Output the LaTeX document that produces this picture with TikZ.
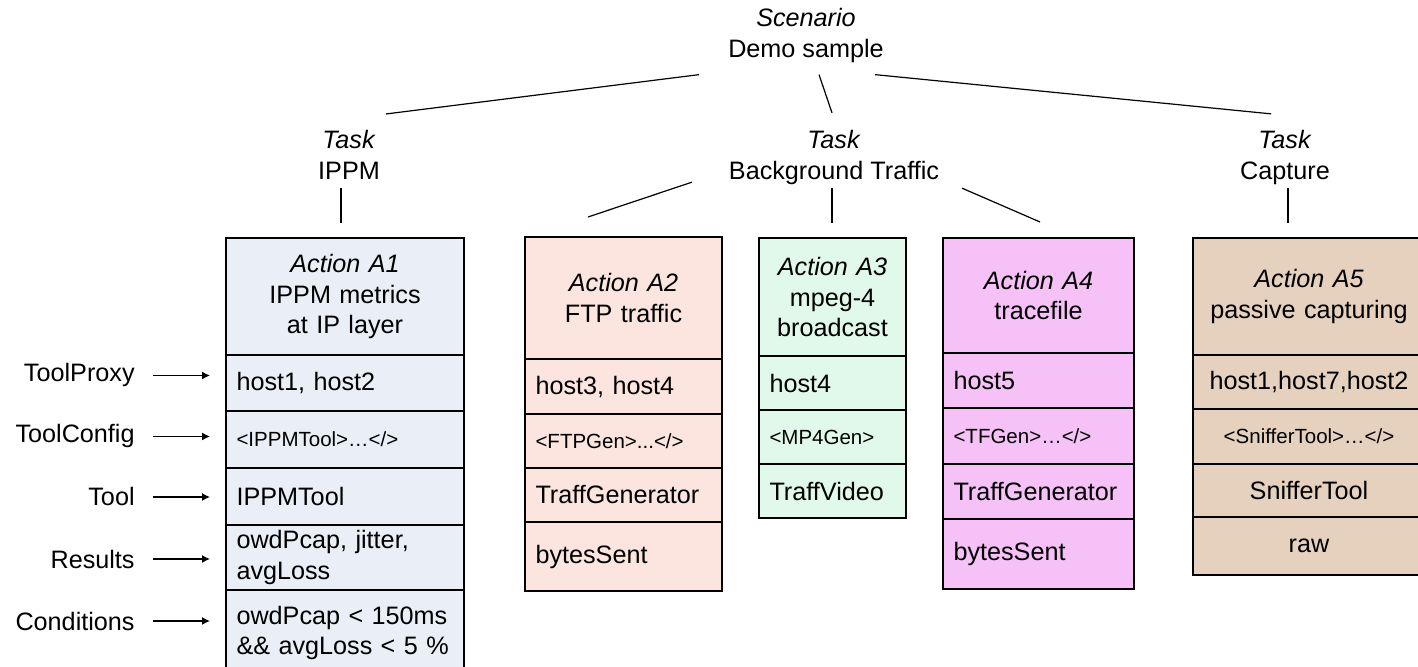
\documentclass[tikz,border=0pt]{standalone}
\usepackage{fontspec}
\setmainfont{Liberation Sans}
\usetikzlibrary{arrows.meta,calc}

\definecolor{aonefill}{HTML}{E9EEF7}
\definecolor{atwofill}{HTML}{FBE5DE}
\definecolor{athreefill}{HTML}{E0F9EA}
\definecolor{afourfill}{HTML}{F5C1F6}
\definecolor{afivefill}{HTML}{E5D1BE}

\newcommand\cfgsize{\fontsize{10.25}{12}\selectfont}

% one cell of an action column: name, fill, alignment, x1, y1, x2, y2, text
\newcommand\actioncell[8]{%
  \pgfmathsetmacro\cellw{(#6-#4)*0.5}%
  \pgfmathsetmacro\cellh{(#7-#5)*0.5}%
  \pgfmathsetmacro\celltw{(#6-#4-21)*0.5}%
  \node[cell, fill=#2, align=#3, minimum width=\cellw pt,
        minimum height=\cellh pt, text width=\celltw pt]
        (#1) at ({(#4+#6)/2},{(#5+#7)/2}) {#8};}

\begin{document}
\begin{tikzpicture}[x=0.5pt,y=-0.5pt,
  txt/.style={font=\fontsize{12.6}{15.5}\selectfont, inner sep=0pt},
  cell/.style={draw=black, line width=1pt, inner xsep=5.25pt, inner ysep=0pt,
               font=\fontsize{12.6}{15.3}\selectfont},
  link/.style={line width=0.6pt},
  pointer/.style={line width=0.65pt,-{Latex[length=4pt,width=4pt]}}]
\useasboundingbox (0,0) rectangle (1418,667);

% scenario and tasks
\node[txt, align=center] (scen) at (806,35) {\textit{Scenario}\\Demo sample};
\node[txt, align=center] (tippm) at (349,155) {\textit{Task}\\IPPM};
\node[txt, align=center] (tbg) at (834,157.5) {\textit{Task}\\Background Traffic};
\node[txt, align=center] (tcap) at (1285,157.5) {\textit{Task}\\Capture};

% action A1
\actioncell{aOneH}{aonefill}{center}{226}{238}{464}{355}{\textit{Action A1}\\IPPM metrics\\at IP layer}
\actioncell{aOneP}{aonefill}{left}{226}{355}{464}{411}{host1, host2}
\actioncell{aOneC}{aonefill}{left}{226}{411}{464}{468}{\cfgsize <IPPMTool>…</>}
\actioncell{aOneT}{aonefill}{left}{226}{468}{464}{525}{IPPMTool}
\actioncell{aOneR}{aonefill}{left}{226}{525}{464}{590}{owdPcap, jitter,\\avgLoss}
\actioncell{aOneK}{aonefill}{left}{226}{590}{464}{676}{owdPcap < 150ms\\\&\& avgLoss < 5 \%}

% action A2
\actioncell{aTwoH}{atwofill}{center}{525}{237}{722}{359}{\textit{Action A2}\\FTP traffic}
\actioncell{aTwoP}{atwofill}{left}{525}{359}{722}{414}{host3, host4}
\actioncell{aTwoC}{atwofill}{left}{525}{414}{722}{468}{\cfgsize <FTPGen>...</>}
\actioncell{aTwoT}{atwofill}{left}{525}{468}{722}{522}{TraffGenerator}
\actioncell{aTwoR}{atwofill}{left}{525}{522}{722}{591}{bytesSent}

% action A3
\actioncell{aThreeH}{athreefill}{center}{759}{238}{906}{356}{\textit{Action A3}\\mpeg-4\\broadcast}
\actioncell{aThreeP}{athreefill}{left}{759}{356}{906}{410}{host4}
\actioncell{aThreeC}{athreefill}{left}{759}{410}{906}{464}{\cfgsize <MP4Gen>}
\actioncell{aThreeT}{athreefill}{left}{759}{464}{906}{518}{TraffVideo}

% action A4
\actioncell{aFourH}{afourfill}{center}{943}{238}{1134}{353}{\textit{Action A4}\\tracefile}
\actioncell{aFourP}{afourfill}{left}{943}{353}{1134}{408}{host5}
\actioncell{aFourC}{afourfill}{left}{943}{408}{1134}{464}{\cfgsize <TFGen>…</>}
\actioncell{aFourT}{afourfill}{left}{943}{464}{1134}{519}{TraffGenerator}
\actioncell{aFourR}{afourfill}{left}{943}{519}{1134}{589}{bytesSent}

% action A5
\actioncell{aFiveH}{afivefill}{center}{1193}{238}{1425}{355}{\textit{Action A5}\\passive capturing}
\actioncell{aFiveP}{afivefill}{center}{1193}{355}{1425}{409}{host1,host7,host2}
\actioncell{aFiveC}{afivefill}{center}{1193}{409}{1425}{464}{\cfgsize <SnifferTool>…</>}
\actioncell{aFiveT}{afivefill}{center}{1193}{464}{1425}{517}{SnifferTool}
\actioncell{aFiveR}{afivefill}{center}{1193}{517}{1425}{575}{raw}

% tree links
\draw[link] ([shift={(-107,12)}]scen.south) -- ([shift={(37,-16)}]tippm.north);
\draw[link] ([shift={(13,12)}]scen.south) -- ([shift={(-2,-17)}]tbg.north);
\draw[link] ([shift={(69,12)}]scen.south) -- ([shift={(-14,-16)}]tcap.north);
\draw[link] ([shift={(-8,8)}]tippm.south) -- ([shift={(-4,-14)}]aOneH.north);
\draw[link] ([shift={(-142,-3)}]tbg.south) -- ([shift={(-35.5,-19)}]aTwoH.north);
\draw[link] ([shift={(-2,3)}]tbg.south) -- ([shift={(-0.5,-14)}]aThreeH.north);
\draw[link] ([shift={(128,3)}]tbg.south) -- ([shift={(1.5,-15)}]aFourH.north);
\draw[link] ([shift={(3,3)}]tcap.south) -- ([shift={(-21,-14)}]aFiveH.north);

% row labels with pointers
\foreach \lbl/\row/\yb in {ToolProxy/aOneP/382, ToolConfig/aOneC/443, Tool/aOneT/506,
                          Results/aOneR/568, Conditions/aOneK/630}{
  \node[txt, anchor=base east] (lbl\row) at (135,\yb) {\lbl};
  \draw[pointer] ([xshift=9pt]lbl\row.east) -- ([xshift=-7.5pt]lbl\row.east -| \row.west);
}
\end{tikzpicture}
\end{document}
